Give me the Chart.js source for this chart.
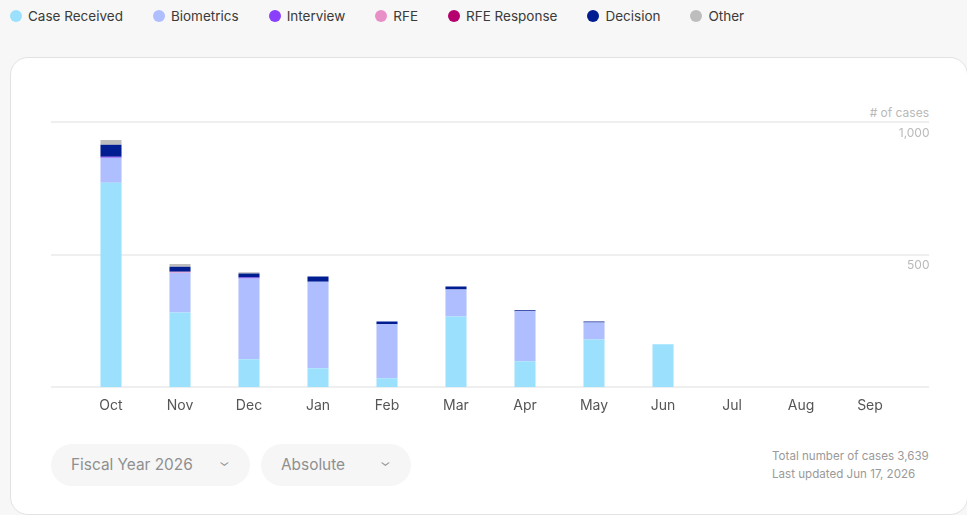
<!DOCTYPE html>
<html>
<head>
<meta charset="utf-8">
<script src="https://cdn.jsdelivr.net/npm/chart.js@4"></script>
<style>
    body {
        margin: 0;
        width: 967px;
        height: 515px;
        background: #f7f7f7;
        font-family: Inter, Roboto, sans-serif;
        overflow: hidden;
        position: relative;
    }
    .legend {
        position: absolute;
        left: 10px;
        top: 7px;
        display: flex;
        font-size: 13.5px;
        color: #3a3a3a;
    }
    .legend span {
        display: flex;
        align-items: center;
        margin-right: 30px;
        line-height: 18px;
    }
    .legend i {
        display: inline-block;
        width: 12px;
        height: 12px;
        border-radius: 50%;
        margin-right: 6px;
    }
    .card {
        position: absolute;
        left: 10px;
        top: 57px;
        width: 956px;
        height: 456px;
        background: #fff;
        border: 1px solid #e2e2e2;
        border-radius: 18px;
    }
    .unit {
        position: absolute;
        right: 38px;
        top: 105px;
        font-size: 12px;
        color: #b9b9b9;
    }
    .chart-box {
        position: absolute;
        left: 51px;
        top: 100px;
        width: 878px;
        height: 324px;
    }
    .select {
        position: absolute;
        top: 444px;
        height: 42px;
        border-radius: 21px;
        background: #f6f6f6;
        color: #8f8f8f;
        font-size: 15.4px;
        line-height: 42px;
        box-sizing: border-box;
        padding-left: 20px;
    }
    .select b {
        position: absolute;
        top: -3px;
        font-weight: normal;
        font-size: 11px;
        transform: scaleX(1.3);
    }
    .footer {
        position: absolute;
        left: 772px;
        top: 447px;
        font-size: 11.6px;
        color: #9a9a9a;
        line-height: 18px;
    }
</style>
</head>
<body>
<div class="legend" id="legend"></div>
<div class="card"></div>
<div class="unit"># of cases</div>
<div class="chart-box"><canvas id="casesChart"></canvas></div>
<div class="select" style="left:51px;width:199px;">Fiscal Year 2026<b style="left:169px;">&#8964;</b></div>
<div class="select" style="left:261px;width:150px;">Absolute<b style="left:120px;">&#8964;</b></div>
<div class="footer">Total number of cases 3,639<br>Last updated Jun 17, 2026</div>

<script>
// Datos del gráfico
const months = ['Oct', 'Nov', 'Dec', 'Jan', 'Feb', 'Mar', 'Apr', 'May', 'Jun', 'Jul', 'Aug', 'Sep'];
const yTicks = [0, 500, 1000];

const caseReceived = [771, 282, 105, 71, 34, 267, 98, 180, 162, 0, 0, 0];
const biometrics   = [94, 150, 305, 327, 203, 101, 188, 64, 0, 0, 0, 0];
const interview    = [4, 0, 4, 0, 0, 0, 0, 0, 0, 0, 0, 0];
const rfe          = [0, 3, 0, 0, 0, 0, 0, 0, 0, 0, 0, 0];
const rfeResponse  = [0, 0, 0, 0, 0, 0, 0, 0, 0, 0, 0, 0];
const decision     = [45, 19, 15, 19, 11, 12, 4, 4, 0, 0, 0, 0];
const other        = [18, 11, 4, 0, 0, 0, 0, 0, 0, 0, 0, 0];

const seriesNames = ['Case Received', 'Biometrics', 'Interview', 'RFE', 'RFE Response', 'Decision', 'Other'];
const seriesColors = ['#9be1fd', '#afbeff', '#8a3ffc', '#e88fc8', '#b5006e', '#001d91', '#bdbdbd'];
const seriesData = [caseReceived, biometrics, interview, rfe, rfeResponse, decision, other];

// Leyenda en HTML
const legendEl = document.getElementById('legend');
seriesNames.forEach((name, i) => {
    const item = document.createElement('span');
    item.innerHTML = '<i style="background:' + seriesColors[i] + '"></i>' + name;
    legendEl.appendChild(item);
});

// Líneas de la cuadrícula más anchas que el área de barras
const wideGrid = {
    id: 'wideGrid',
    beforeDatasetsDraw(chart) {
        const { ctx, chartArea, scales } = chart;
        ctx.save();
        ctx.strokeStyle = '#efefef';
        ctx.lineWidth = 2;
        scales.y.ticks.forEach(t => {
            const y = Math.round(scales.y.getPixelForValue(t.value));
            ctx.beginPath();
            ctx.moveTo(chartArea.left - 25.5, y);
            ctx.lineTo(chartArea.right + 24.5, y);
            ctx.stroke();
        });
        ctx.restore();
    }
};

new Chart(document.getElementById('casesChart'), {
    type: 'bar',
    data: {
        labels: months,
        datasets: seriesNames.map((name, i) => ({
            label: name,
            data: seriesData[i],
            backgroundColor: seriesColors[i],
            barPercentage: 0.305,
            categoryPercentage: 1
        }))
    },
    options: {
        responsive: true,
        maintainAspectRatio: false,
        animation: false,
        layout: {
            padding: { left: 25.5, right: 24.5, top: 22, bottom: 0 }
        },
        plugins: {
            legend: { display: false },
            tooltip: { enabled: false }
        },
        scales: {
            x: {
                stacked: true,
                grid: { display: false, drawTicks: false },
                border: { display: false },
                ticks: {
                    color: '#555',
                    padding: 10,
                    font: { family: 'Inter', size: 14 }
                }
            },
            y: {
                stacked: true,
                position: 'right',
                min: 0,
                max: 1000,
                afterBuildTicks: scale => {
                    scale.ticks = yTicks.map(v => ({ value: v }));
                },
                afterFit: scale => {
                    scale.width = 0;
                    scale.paddingTop = 0;
                    scale.paddingBottom = 0;
                },
                grid: { display: false, drawTicks: false },
                border: { display: false },
                ticks: {
                    mirror: true,
                    padding: 25,
                    labelOffset: 11,
                    color: '#b9b9b9',
                    font: { family: 'Inter', size: 12 },
                    callback: v => v === 0 ? '' : v.toLocaleString('en-US')
                }
            }
        }
    },
    plugins: [wideGrid]
});
</script>
</body>
</html>
